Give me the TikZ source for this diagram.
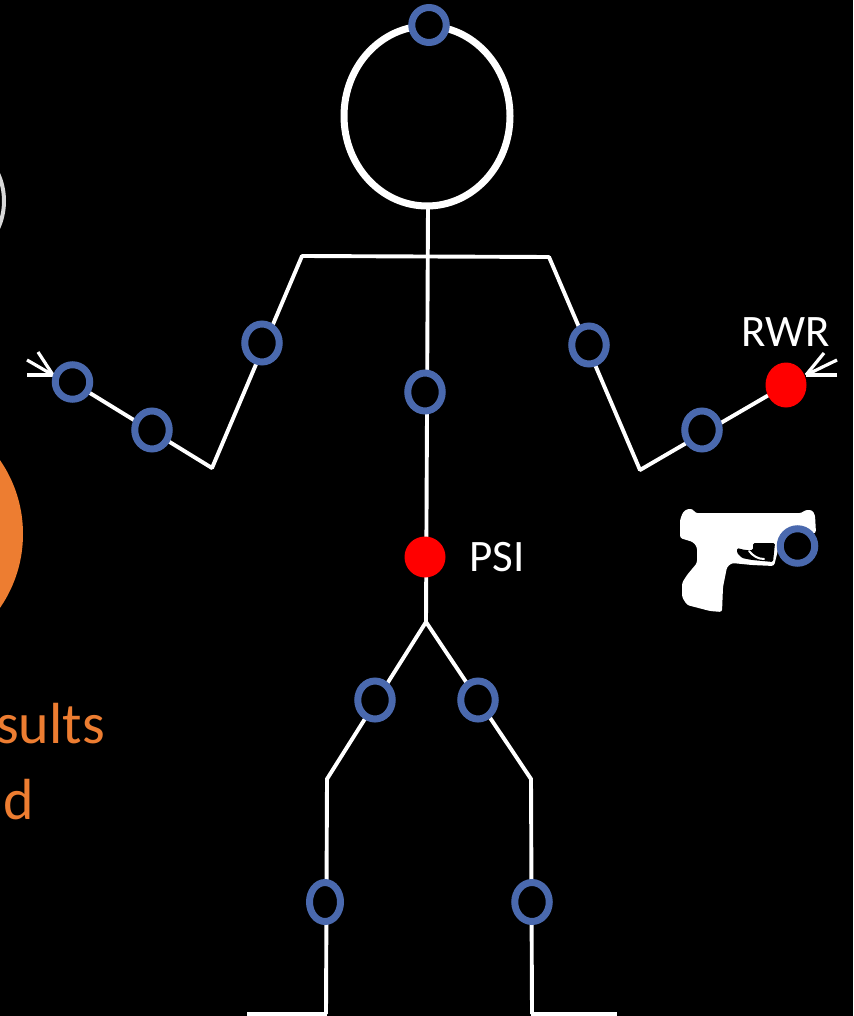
\documentclass[tikz,border=0pt]{standalone}
\usepackage{fontspec}
\setmainfont{Carlito}
\usetikzlibrary{shapes.geometric}
\definecolor{ringblue}{HTML}{4A69AE}
\definecolor{accent}{HTML}{ED7D31}
\tikzset{
  x=1pt,y=-1pt,
  bone/.style={draw=white,line width=3.9pt},
  tick/.style={draw=white,line width=3.2pt},
  joint/.style={ellipse,draw=ringblue,line width=7pt,fill=black,inner sep=0pt,outer sep=0pt,minimum width=34.5pt,minimum height=38pt},
  marker/.style={ellipse,fill=red,inner sep=0pt,outer sep=0pt},
  label/.style={text=white,font=\fontsize{45}{45}\selectfont,inner sep=0pt},
  orange text/.style={text=accent,font=\fontsize{58}{58}\selectfont,inner sep=0pt}
}
\begin{document}
\begin{tikzpicture}
\fill[black] (0,0) rectangle (853,1016);
\useasboundingbox (0,0) rectangle (853,1016);
\clip (0,0) rectangle (853,1016);

% Neighbouring slide content at the left edge
\draw[draw=white!85!black,line width=4pt] (-62,201) circle (66);
\fill[accent] (-107,534) circle (130);
\node[orange text,anchor=base east] (resultsword) at (105,743) {sults};
\node[orange text,anchor=base east] (dword) at (34,819) {d};

% Skeleton reference points
\coordinate (neck) at (428,206);
\coordinate (lshoulder) at (302,256);
\coordinate (rshoulder) at (549,257);
\coordinate (lelbow) at (212,468);
\coordinate (relbow) at (640,470);
\coordinate (hip) at (426,622);
\coordinate (lknee) at (327,779);
\coordinate (rknee) at (531,779);
\coordinate (lankle) at (326,1014);
\coordinate (rankle) at (532,1014);
\coordinate (ltoe) at (247,1014);
\coordinate (rtoe) at (617,1014);
\coordinate (lhand) at (72,382);
\coordinate (rhand) at (786,385);
\coordinate (ltipA) at (27,375);
\coordinate (ltipB) at (38,352);
\coordinate (ltipC) at (27,360);
\coordinate (rtipA) at (837,375);
\coordinate (rtipB) at (824,353);
\coordinate (rtipC) at (837,360);
\coordinate (lhead) at (53,375);
\coordinate (rhead) at (806,375);

% Head and limbs
\draw[draw=white,line width=7pt] (427,116) ellipse (83 and 90);
\draw[bone] (neck) -- (hip);
\draw[bone,line cap=round] (lshoulder) -- (rshoulder);
\draw[bone,line cap=round] (lshoulder) -- (lelbow);
\draw[bone,line cap=round] (rshoulder) -- (relbow);
\draw[bone] (lhand) -- (lelbow);
\draw[bone] (relbow) -- (rhand);
\draw[bone] (lankle) -- (lknee) -- (hip) -- (rknee) -- (rankle);
\draw[tick] (ltoe) -- (327,1014);
\draw[tick] (531,1014) -- (rtoe);

% Arrowheads at both hands
\draw[tick] (ltipA) -- (lhead);
\draw[tick] (ltipB) -- (lhead);
\draw[tick] (ltipC) -- (lhead);
\draw[tick] (rtipA) -- (rhead);
\draw[tick] (rtipB) -- (rhead);
\draw[tick] (rtipC) -- (rhead);

% Pistol silhouette
\fill[white,rounded corners=2.5pt]
  (680,520) -- (683,512) -- (687,509) -- (693,509) -- (695,513) -- (802,513) -- (805,510) -- (812,510)
  -- (815,515) -- (816,533) -- (778,542) -- (778,550) -- (774,566) -- (752,565) -- (732,563) -- (727,567)
  -- (723,587) -- (722,612) -- (710,611) -- (687,605) -- (682,597) -- (682,583) -- (687,575) -- (697,563)
  -- (697,547) -- (693,542) -- (680,538) -- cycle;
\fill[black,rounded corners=1.5pt]
  (737,548) -- (745,550) -- (753,550) -- (753,543) -- (775,543) -- (773,562) -- (752,560) -- (742,558) -- (737,553) -- cycle;
\draw[white,line width=2pt,line cap=round] (749,551) .. controls (753,556) and (758,559) .. (764,559);

% Tracked joints
\node[joint,minimum height=35pt] (headtop) at (429,25) {};
\node[joint,minimum height=34.5pt] (lhandj) at (72.5,382) {};
\node[joint] (lwrist) at (152,430) {};
\node[joint] (larm) at (262,343) {};
\node[joint] (rarm) at (589,345) {};
\node[joint] (rwrist) at (702,430) {};
\node[joint] (torso) at (425,392) {};
\node[joint] (lthigh) at (375,700) {};
\node[joint] (rthigh) at (478,700) {};
\node[joint,minimum width=31pt,minimum height=39pt] (lshin) at (325,902) {};
\node[joint,minimum height=39pt] (rshin) at (532,902) {};
\node[joint,minimum height=34.5pt] (gunj) at (797.5,546) {};

% Virtual markers and their labels
\node[marker,minimum width=41pt,minimum height=45pt] (rwr) at (786,385) {};
\node[marker,minimum width=41pt,minimum height=41pt] (psi) at (425,557) {};
\node[label,anchor=base] (rwrlabel) at (786,346) {RWR};
\node[label,anchor=base] (psilabel) at (497,571) {PSI};
\end{tikzpicture}
\end{document}
